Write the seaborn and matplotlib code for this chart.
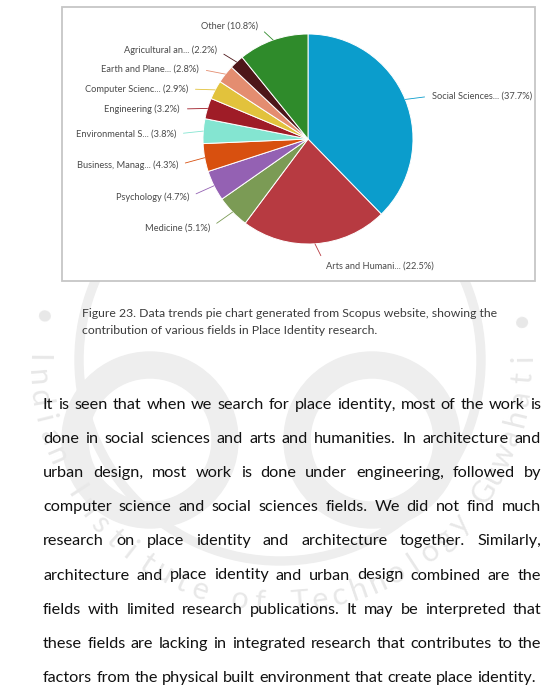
import matplotlib
matplotlib.use("Agg")
import matplotlib.pyplot as plt
import seaborn as sns
import numpy as np
from matplotlib.patches import Rectangle, Wedge

sns.set_theme(style="white")
plt.rcParams["font.family"] = ["Lato", "DejaVu Sans"]

# ---------------- data ----------------
categories = ["Social Sciences...", "Arts and Humani...", "Medicine", "Psychology",
              "Business, Manag...", "Environmental S...", "Engineering",
              "Computer Scienc...", "Earth and Plane...", "Agricultural an...", "Other"]
shares = [37.7, 22.5, 5.1, 4.7, 4.3, 3.8, 3.2, 2.9, 2.8, 2.2, 10.8]
slice_colors = ["#0b9dcc", "#b73a41", "#7b9b55", "#9461b3", "#d8500f", "#84e5d1",
                "#9f1c27", "#e2c23c", "#e48d70", "#4d1619", "#2f8b2b"]

caption_lines = [
    "Figure 23. Data trends pie chart generated from Scopus website, showing the",
    "contribution of various fields in Place Identity research.",
]
paragraph_lines = [
    "It is seen that when we search for place identity, most of the work is",
    "done in social sciences and arts and humanities. In architecture and",
    "urban design, most work is done under engineering, followed by",
    "computer science and social sciences fields. We did not find much",
    "research on place identity and architecture together. Similarly,",
    "architecture and place identity and urban design combined are the",
    "fields with limited research publications. It may be interpreted that",
    "these fields are lacking in integrated research that contributes to the",
    "factors from the physical built environment that create place identity.",
]
watermark_text = "Indian Institute of Technology Guwahati"

# ---------------- layout (pixels) ----------------
W, H = 557, 695
CX, CY, R = 308, 139, 105
# label anchor (x, y, side) for each category, same order as categories
label_anchor = [(432, 96, "L"), (326, 266, "L"), (210, 228, "R"), (189, 197, "R"),
                (178, 165, "R"), (176, 134, "R"), (180, 109, "R"), (188, 89, "R"),
                (199, 69, "R"), (217, 50, "R"), (258, 26, "R")]

fig = plt.figure(figsize=(W / 100, H / 100), dpi=100)
fig.patch.set_facecolor("white")
renderer = fig.canvas.get_renderer()

bg = fig.add_axes([0, 0, 1, 1])
bg.set_xlim(0, W)
bg.set_ylim(H, 0)
bg.axis("off")


def text_width(s, size, **kw):
    t = bg.text(0, 0, s, fontsize=size, **kw)
    w = t.get_window_extent(renderer).width
    t.remove()
    return w


def fit_size(s, target, **kw):
    return 10 * target / text_width(s, 10, **kw)


# ---------------- faint watermark ----------------
wm = "#eeeeee"
wcx, wcy, wr = 280, 360, 243
bg.add_patch(Wedge((wcx, wcy), 205, 0, 360, width=8, color=wm, zorder=0))
bg.add_patch(Wedge((150, 440), 88, 0, 360, width=26, color=wm, zorder=0))
bg.add_patch(Wedge((372, 440), 88, 0, 360, width=26, color=wm, zorder=0))
chars = "• " + watermark_text + " •"
angles = np.linspace(170, 370, len(chars))
for ch, a in zip(chars, angles):
    ar = np.deg2rad(a)
    x = wcx + wr * np.cos(ar)
    y = wcy - wr * np.sin(ar)
    bg.text(x, y, ch, fontsize=22, color="#e8e8e8", rotation=a + 90, ha="center",
            va="center", rotation_mode="anchor", zorder=0)

# ---------------- chart box ----------------
bg.add_patch(Rectangle((62, 7), 473, 274, facecolor="white", edgecolor="#c6c6c6",
                       lw=1.3, zorder=1))

# ---------------- pie ----------------
ax = fig.add_axes([(CX - R) / W, 1 - (CY + R) / H, 2 * R / W, 2 * R / H])
wedges, _ = ax.pie(shares, colors=slice_colors, startangle=90, counterclock=False,
                   wedgeprops=dict(edgecolor="white", linewidth=0.7))
ax.set_xlim(-1, 1)
ax.set_ylim(-1, 1)
ax.axis("off")

lab_size = fit_size("Social Sciences... (37.7%)", 101)
for w, cat, val, col, (lx, ly, side) in zip(wedges, categories, shares, slice_colors,
                                             label_anchor):
    mid = np.deg2rad((w.theta1 + w.theta2) / 2)
    xy = (np.cos(mid), np.sin(mid))
    ax.annotate(f"{cat} ({val}%)", xy=xy, xycoords="data",
                xytext=(lx, ly), textcoords=bg.transData,
                ha="left" if side == "L" else "right", va="center",
                fontsize=lab_size, color="#4a4a4a",
                arrowprops=dict(arrowstyle="-", color=col, lw=0.6, shrinkA=3,
                                shrinkB=0,
                                relpos=(0, 0.5) if side == "L" else (1, 0.5)),
                annotation_clip=False)

# ---------------- caption ----------------
cap_size = fit_size(caption_lines[0], 416)
for i, line in enumerate(caption_lines):
    bg.text(82, 317 + 17.5 * i, line, fontsize=cap_size, color="#3c3c3c",
            ha="left", va="baseline", zorder=3)

# ---------------- justified paragraph ----------------
LEFT, RIGHT = 43, 541
par_size = fit_size(paragraph_lines[-1], 496)
space_w = text_width("a b", par_size) - text_width("ab", par_size)
for i, line in enumerate(paragraph_lines):
    y = 409 + 34.1 * i
    words = line.split()
    widths = [text_width(wd, par_size) for wd in words]
    if i < len(paragraph_lines) - 1:
        gap = (RIGHT - LEFT - sum(widths)) / (len(words) - 1)
    else:
        gap = space_w
    x = LEFT
    for wd, ww in zip(words, widths):
        bg.text(x, y, wd, fontsize=par_size, color="#111111", ha="left",
                va="baseline", zorder=3)
        x += ww + gap

fig.savefig("out.png", dpi=100, facecolor="white")
